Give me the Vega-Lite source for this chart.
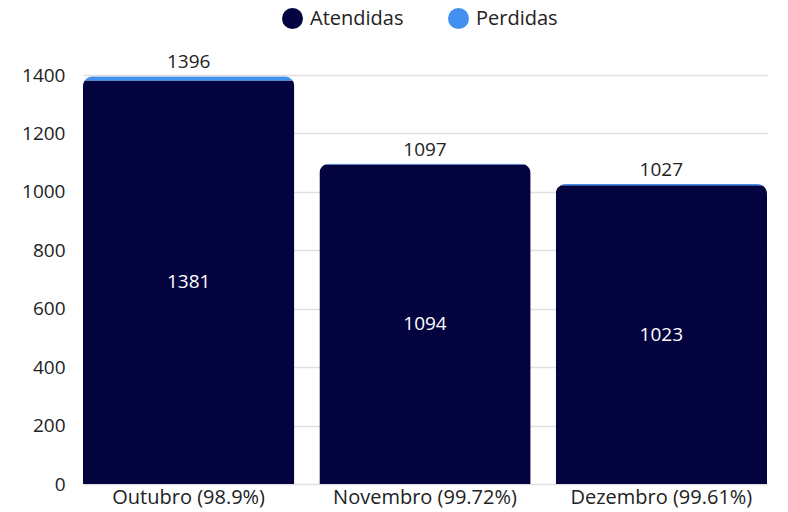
{
  "$schema": "https://vega.github.io/schema/vega-lite/v6.json",
  "width": 684,
  "height": 409,
  "autosize": {"type": "none"},
  "padding": {"left": 83, "top": 75, "right": 21, "bottom": 28},
  "background": "white",
  "data": {
    "values": [
      {"mes": "Outubro (98.9%)", "tipo": "Atendidas", "valor": 1381},
      {"mes": "Outubro (98.9%)", "tipo": "Perdidas", "valor": 15},
      {"mes": "Novembro (99.72%)", "tipo": "Atendidas", "valor": 1094},
      {"mes": "Novembro (99.72%)", "tipo": "Perdidas", "valor": 3},
      {"mes": "Dezembro (99.61%)", "tipo": "Atendidas", "valor": 1023},
      {"mes": "Dezembro (99.61%)", "tipo": "Perdidas", "valor": 4}
    ]
  },
  "encoding": {
    "x": {
      "field": "mes",
      "type": "nominal",
      "sort": null,
      "title": null,
      "scale": {"paddingInner": 0.106, "paddingOuter": 0},
      "axis": {"labelAngle": 0, "ticks": false, "domain": false, "labelFontSize": 20, "labelColor": "#222", "labelPadding": 3, "labelLimit": 400}
    }
  },
  "layer": [
    {
      "mark": {"type": "bar", "cornerRadiusTopLeft": 10, "cornerRadiusTopRight": 10},
      "encoding": {
        "y": {
          "field": "valor",
          "type": "quantitative",
          "stack": "zero",
          "title": null,
          "scale": {"domain": [0, 1400]},
          "axis": {"values": [0, 200, 400, 600, 800, 1000, 1200, 1400], "format": "d", "ticks": false, "domain": false, "labelFontSize": 19, "labelColor": "#222", "labelPadding": 18, "gridColor": "#e0e0e0", "gridWidth": 1.5}
        },
        "color": {
          "field": "tipo",
          "type": "nominal",
          "scale": {"domain": ["Atendidas", "Perdidas"], "range": ["#03033f", "#4290f0"]},
          "legend": {
            "title": null,
            "orient": "none",
            "direction": "horizontal",
            "legendX": 198,
            "legendY": -68,
            "symbolType": "circle",
            "symbolSize": 441,
            "symbolOpacity": 1,
            "labelFontSize": 20,
            "labelColor": "#222",
            "columnPadding": 43,
            "labelOffset": 6
          }
        },
        "order": {"field": "tipo", "sort": "ascending"}
      }
    },
    {
      "transform": [{"aggregate": [{"op": "sum", "field": "valor", "as": "total"}], "groupby": ["mes"]}],
      "mark": {"type": "text", "dy": -14, "fontSize": 19, "color": "#222"},
      "encoding": {
        "y": {"field": "total", "type": "quantitative"},
        "text": {"field": "total", "type": "quantitative"}
      }
    },
    {
      "transform": [
        {"filter": "datum.tipo === 'Atendidas'"},
        {"calculate": "datum.valor / 2", "as": "meio"}
      ],
      "mark": {"type": "text", "fontSize": 19, "color": "white"},
      "encoding": {
        "y": {"field": "meio", "type": "quantitative"},
        "text": {"field": "valor", "type": "quantitative"}
      }
    }
  ],
  "config": {
    "view": {"stroke": null},
    "font": "Open Sans"
  }
}
